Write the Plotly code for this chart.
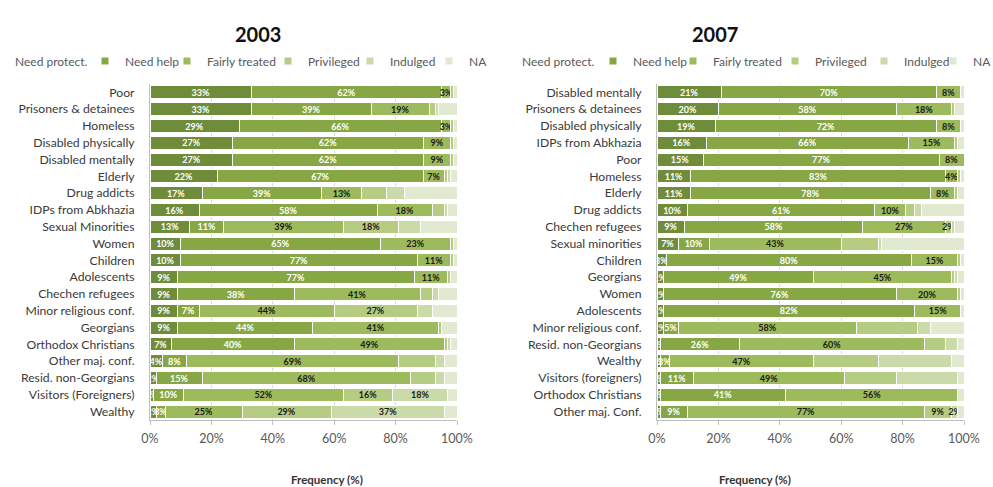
import plotly.graph_objects as go

# Response categories, stacked left to right
series = ["Need protect.", "Need help", "Fairly treated", "Privileged", "Indulged", "NA"]
colors = ["#6f8c3b", "#87a745", "#9dbb5c", "#b5cc82", "#cbdaa9", "#e1e9d1"]
label_colors = ["#ffffff", "#ffffff", "#1a1a1a", "#1a1a1a", "#1a1a1a", "#1a1a1a"]

# ---- 2003 survey ----
groups_2003 = ["Poor", "Prisoners & detainees", "Homeless", "Disabled physically",
               "Disabled mentally", "Elderly", "Drug addicts", "IDPs from Abkhazia",
               "Sexual Minorities", "Women", "Children", "Adolescents",
               "Chechen refugees", "Minor religious conf.", "Georgians",
               "Orthodox Christians", "Other maj. conf.", "Resid. non-Georgians",
               "Visitors (Foreigners)", "Wealthy"]
need_protect_2003 = [33, 33, 29, 27, 27, 22, 17, 16, 13, 10, 10, 9, 9, 9, 9, 7, 4, 2, 1, 2]
need_help_2003 = [62, 39, 66, 62, 62, 67, 39, 58, 11, 65, 77, 77, 38, 7, 44, 40, 8, 15, 10, 3]
fairly_treated_2003 = [3, 19, 3, 9, 9, 7, 13, 18, 39, 23, 11, 11, 41, 44, 41, 49, 69, 68, 52, 25]
privileged_2003 = [1, 2, 1, 1, 1, 1, 8, 4, 18, 1, 1, 1, 4, 27, 1, 1, 12, 8, 16, 29]
indulged_2003 = [0, 1, 0, 0, 0, 1, 6, 1, 7, 0, 0, 0, 2, 5, 0, 1, 3, 3, 18, 37]
na_2003 = [1, 6, 1, 1, 1, 2, 17, 3, 12, 1, 1, 2, 6, 8, 5, 2, 4, 4, 3, 4]
# how many segments (from the left) carry a value label
labelled_2003 = [3, 3, 3, 3, 3, 3, 3, 3, 4, 3, 3, 3, 3, 4, 3, 3, 3, 3, 5, 5]

# ---- 2007 survey ----
groups_2007 = ["Disabled mentally", "Prisoners & detainees", "Disabled physically",
               "IDPs from Abkhazia", "Poor", "Homeless", "Elderly", "Drug addicts",
               "Chechen refugees", "Sexual minorities", "Children", "Georgians",
               "Women", "Adolescents", "Minor religious conf.", "Resid. non-Georgians",
               "Wealthy", "Visitors (foreigners)", "Orthodox Christians",
               "Other maj. Conf."]
need_protect_2007 = [21, 20, 19, 16, 15, 11, 11, 10, 9, 7, 3, 2, 2, 2, 2, 1, 1, 1, 1, 1]
need_help_2007 = [70, 58, 72, 66, 77, 83, 78, 61, 58, 10, 80, 49, 76, 82, 5, 26, 3, 11, 41, 9]
fairly_treated_2007 = [8, 18, 8, 15, 8, 4, 8, 10, 27, 43, 15, 45, 20, 15, 58, 60, 47, 49, 56, 77]
privileged_2007 = [0, 1, 0, 1, 0, 1, 1, 3, 2, 12, 1, 1, 1, 0, 20, 7, 21, 17, 0, 9]
indulged_2007 = [0, 0, 0, 0, 0, 0, 0, 2, 1, 1, 0, 1, 0, 0, 4, 4, 24, 20, 0, 2]
na_2007 = [1, 3, 1, 2, 0, 1, 2, 14, 3, 27, 1, 2, 1, 1, 11, 2, 4, 2, 2, 2]
labelled_2007 = [3, 3, 3, 3, 3, 3, 3, 3, 4, 3, 3, 3, 3, 4, 3, 3, 3, 3, 4, 5]

FONT = "Lato, 'Open Sans', sans-serif"
W, H = 993, 487
M_L, M_R, M_T, M_B = 150, 29, 84, 67
PLOT_W = W - M_L - M_R
PLOT_H = H - M_T - M_B


def px_x(px):
    """Horizontal pixel position -> paper fraction."""
    return (px - M_L) / PLOT_W


def px_y(py):
    """Vertical pixel position (from top) -> paper fraction."""
    return 1 + (M_T - py) / PLOT_H


# legend key positions (pixel x of each swatch) for each panel
legend_keys_2003 = [102, 184, 285, 367, 446]
legend_keys_2007 = [610, 690, 792, 881, 950]

years = [
    ("2003", groups_2003,
     [need_protect_2003, need_help_2003, fairly_treated_2003,
      privileged_2003, indulged_2003, na_2003], labelled_2003, "x", "y", legend_keys_2003, 1),
    ("2007", groups_2007,
     [need_protect_2007, need_help_2007, fairly_treated_2007,
      privileged_2007, indulged_2007, na_2007], labelled_2007, "x2", "y2", legend_keys_2007, 6),
]

legend_style = dict(orientation="h", yref="paper", y=px_y(61), yanchor="middle",
                    xanchor="left", font=dict(family=FONT, size=12, color="#595959"),
                    itemwidth=30, bgcolor="rgba(0,0,0,0)",
                    itemclick=False, itemdoubleclick=False)
legends = {}

fig = go.Figure()
for year, groups, values, labelled, xa, ya, keys, first_leg in years:
    for k, (name, vals) in enumerate(zip(series, values)):
        text = [f"{v}%" if k < n else "" for v, n in zip(vals, labelled)]
        fig.add_trace(go.Bar(
            x=vals, y=groups, orientation="h", name=name,
            xaxis=xa, yaxis=ya, legendgroup=f"{year}-{name}", showlegend=False,
            marker=dict(color=colors[k], line=dict(color="#ffffff", width=1)),
            text=text, textposition="inside", insidetextanchor="middle",
            constraintext="none", textangle=0,
            textfont=dict(family=FONT, size=9, color=label_colors[k], weight="bold"),
            hovertemplate=f"{name}: %{{x}}%<extra>%{{y}}</extra>",
        ))
    # legend swatches (the first category is named by a plain text label)
    for j, (name, key_px) in enumerate(zip(series[1:], keys)):
        k = j + 1
        idx = first_leg + j
        leg_id = "legend" if idx == 1 else f"legend{idx}"
        legends[leg_id] = dict(x=px_x(key_px - 17), **legend_style)
        fig.add_trace(go.Scatter(
            x=[None], y=[None], mode="markers", name=name, xaxis=xa, yaxis=ya,
            legend=leg_id, legendgroup=f"{year}-{name}",
            marker=dict(symbol="square", size=7, color=colors[k]),
        ))

axis_x = dict(range=[0, 100], dtick=20, ticksuffix="%", showgrid=True,
              gridcolor="#d9d9d9", gridwidth=1, showline=True, linecolor="#bfbfbf",
              ticks="outside", ticklen=4, tickcolor="#bfbfbf", zeroline=False,
              tickfont=dict(family=FONT, size=12.5, color="#595959"),
              ticklabelstandoff=3)
axis_y = dict(type="category", autorange="reversed", showline=True,
              linecolor="#bfbfbf", ticks="", showgrid=False,
              tickfont=dict(family=FONT, size=12.2, color="#3a3a3a"),
              ticklabelstandoff=12)

title_font = dict(family=FONT, size=20, color="#111111")
note_font = dict(family=FONT, size=12, color="#595959")
axis_title_font = dict(family=FONT, size=11.5, color="#333333")

fig.update_layout(
    width=W, height=H,
    margin=dict(l=M_L, r=M_R, t=M_T, b=M_B, autoexpand=False),
    paper_bgcolor="#ffffff", plot_bgcolor="#ffffff",
    barmode="stack", bargap=0.22,
    font=dict(family=FONT),
    xaxis=dict(domain=[0, px_x(457)], anchor="y", **axis_x),
    yaxis=dict(domain=[0, 1], anchor="x", categoryarray=groups_2003, **axis_y),
    xaxis2=dict(domain=[px_x(657), 1.0], anchor="y2", **axis_x),
    yaxis2=dict(domain=[0, 1], anchor="x2", categoryarray=groups_2007, **axis_y),
    annotations=[
        dict(text="<b>2003</b>", xref="paper", yref="paper", x=px_x(233), y=px_y(20),
             showarrow=False, font=title_font),
        dict(text="<b>2007</b>", xref="paper", yref="paper", x=px_x(740), y=px_y(20),
             showarrow=False, font=title_font),
        dict(text="Need protect.", xref="paper", yref="paper", x=px_x(13), y=px_y(61),
             xanchor="left", yanchor="middle", showarrow=False, font=note_font),
        dict(text="Need protect.", xref="paper", yref="paper", x=px_x(520), y=px_y(61),
             xanchor="left", yanchor="middle", showarrow=False, font=note_font),
        dict(text="<b>Frequency (%)</b>", xref="paper", yref="paper", x=px_x(289),
             y=px_y(479), yanchor="middle", showarrow=False, font=axis_title_font),
        dict(text="<b>Frequency (%)</b>", xref="paper", yref="paper", x=px_x(793),
             y=px_y(479), yanchor="middle", showarrow=False, font=axis_title_font),
    ],
    **legends,
)

fig.write_html("out.html")
